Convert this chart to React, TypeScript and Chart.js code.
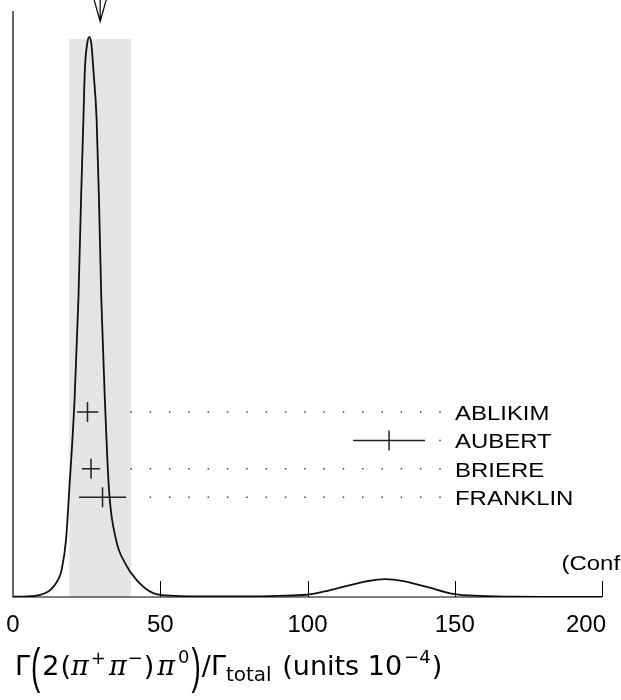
import { useEffect, useRef } from "react";
import { Chart, registerables } from "chart.js";

Chart.register(...registerables);

// Ideogram curve (x in units of 1e-4, height relative to peak)
const CURVE_X = [0, 5, 9.2, 12, 13.7, 15.5, 16.5, 18.0, 19.1, 20.9, 22.2, 23.1, 23.9, 24.4, 25.2, 25.9, 26.6, 27.3, 28.4, 29.2, 30.0, 31.2, 32.6, 35.0, 38.0, 42.0, 47.6, 55, 65, 80, 90, 99.7, 105, 112, 120, 126.3, 133, 140.5, 150, 158.6, 170, 185, 200];
const CURVE_Y = [0.0005, 0.001, 0.004, 0.010, 0.018, 0.033, 0.048, 0.102, 0.191, 0.352, 0.530, 0.709, 0.852, 0.941, 0.988, 1.0, 0.988, 0.941, 0.852, 0.709, 0.530, 0.352, 0.191, 0.102, 0.061, 0.030, 0.007, 0.002, 0.001, 0.001, 0.002, 0.004, 0.009, 0.018, 0.028, 0.032, 0.028, 0.018, 0.005, 0.002, 0.0005, 0.0002, 0];

// Measurements
const NAMES = ["ABLIKIM", "AUBERT", "BRIERE", "FRANKLIN"];
const VALUES = [25.3, 127.7, 26.5, 30.4];
const ERRORS = [3.6, 12.2, 3.1, 8.0];

// Weighted average and its (scaled) error
const AVERAGE = 29.6;
const AVERAGE_ERR = 10.5;

const X_TICKS = [0, 50, 100, 150, 200];
const NOTE = "(Conf";

type Seg = { t: string; font: string; dy: number; sy?: number; gap?: number };

const TITLE: Seg[] = [
  { t: "Γ", font: "27px 'DejaVu Sans'", dy: 0 },
  { t: "(", font: "28px 'Liberation Sans'", dy: 8, sy: 1.8, gap: 1 },
  { t: "2", font: "27px 'DejaVu Sans'", dy: 0, gap: 1 },
  { t: "(", font: "27px 'DejaVu Sans'", dy: 0 },
  { t: "π", font: "italic 27px 'DejaVu Serif'", dy: 0 },
  { t: "+", font: "18px 'DejaVu Sans'", dy: -11, gap: 2 },
  { t: "π", font: "italic 27px 'DejaVu Serif'", dy: 0, gap: 1 },
  { t: "−", font: "18px 'DejaVu Sans'", dy: -11 },
  { t: ")", font: "27px 'DejaVu Sans'", dy: 0, gap: 1 },
  { t: "π", font: "italic 27px 'DejaVu Serif'", dy: 0, gap: 2 },
  { t: "0", font: "18px 'DejaVu Sans'", dy: -12, gap: 1 },
  { t: ")", font: "28px 'Liberation Sans'", dy: 8, sy: 1.8, gap: 1 },
  { t: "/", font: "27px 'DejaVu Sans'", dy: 0 },
  { t: "Γ", font: "27px 'DejaVu Sans'", dy: 0 },
  { t: "total", font: "20px 'DejaVu Sans'", dy: 6 },
  { t: " (units 10", font: "27px 'DejaVu Sans'", dy: 0, gap: 2 },
  { t: "−4", font: "18px 'DejaVu Sans'", dy: -12 },
  { t: ")", font: "27px 'DejaVu Sans'", dy: 0, gap: 1 },
];

const NAME_X = 455;
const ROW_OFFSET = 185; // px above baseline for first row
const ROW_STEP = 28.4;

const ideogramPlugin = {
  id: "ideogram",
  beforeDatasetsDraw(chart: any) {
    const { ctx, chartArea, scales } = chart;
    const xs = scales.x, ys = scales.y;
    const x0 = xs.getPixelForValue(AVERAGE - AVERAGE_ERR);
    const x1 = xs.getPixelForValue(AVERAGE + AVERAGE_ERR);
    const top = ys.getPixelForValue(Math.max(...CURVE_Y)) + 2;
    ctx.save();
    ctx.fillStyle = "#e5e5e5";
    ctx.fillRect(x0, top, x1 - x0, chartArea.bottom - top);
    ctx.restore();
  },
  afterDatasetsDraw(chart: any) {
    const { ctx, chartArea, scales } = chart;
    const xs = scales.x;
    const bottom = chartArea.bottom;
    ctx.save();
    // axes
    ctx.strokeStyle = "#000";
    ctx.lineWidth = 1.2;
    ctx.beginPath();
    ctx.moveTo(chartArea.left, chartArea.top);
    ctx.lineTo(chartArea.left, bottom);
    ctx.lineTo(chartArea.right, bottom);
    ctx.stroke();
    ctx.lineWidth = 1;
    ctx.beginPath();
    X_TICKS.forEach((v) => {
      if (v === X_TICKS[0]) return;
      const px = Math.round(xs.getPixelForValue(v)) + 0.5;
      ctx.moveTo(px, bottom);
      ctx.lineTo(px, bottom - 16);
    });
    ctx.stroke();
    // tick labels
    ctx.fillStyle = "#000";
    ctx.font = "24px 'Liberation Sans'";
    ctx.textBaseline = "alphabetic";
    X_TICKS.forEach((v) => {
      const px = xs.getPixelForValue(v);
      const label = String(v);
      const w = ctx.measureText(label).width;
      let lx = px - w / 2;
      if (lx + w > 606) lx = 606 - w;
      ctx.fillText(label, lx, bottom + 35);
    });
    // note
    ctx.save();
    ctx.font = "21px 'Liberation Sans'";
    ctx.translate(561.5, 570);
    ctx.scale(1.14, 1);
    ctx.fillText(NOTE, 0, 0);
    ctx.restore();

    // measurements
    const bandRight = xs.getPixelForValue(AVERAGE + AVERAGE_ERR);
    const dotEnd = NAME_X - 15;
    const nDots = Math.round((dotEnd - bandRight) / 19.4);
    const dotStep = (dotEnd - bandRight) / nDots;
    NAMES.forEach((name, i) => {
      const ry = bottom - ROW_OFFSET + i * ROW_STEP;
      const l = xs.getPixelForValue(VALUES[i] - ERRORS[i]);
      const r = xs.getPixelForValue(VALUES[i] + ERRORS[i]);
      const c = xs.getPixelForValue(VALUES[i]);
      ctx.strokeStyle = "#222";
      ctx.lineWidth = 1.5;
      ctx.beginPath();
      ctx.moveTo(l, ry);
      ctx.lineTo(r, ry);
      ctx.moveTo(c, ry - 10);
      ctx.lineTo(c, ry + 10);
      ctx.stroke();
      ctx.fillStyle = "#444";
      for (let k = 0; k <= nDots; k++) {
        const dx = bandRight + k * dotStep;
        if (dx > r + 6) ctx.fillRect(dx - 0.75, ry - 0.75, 1.5, 1.5);
      }
      ctx.fillStyle = "#000";
      ctx.save();
      ctx.font = "21px 'Liberation Sans'";
      ctx.translate(NAME_X, ry + 8);
      ctx.scale(1.14, 1);
      ctx.fillText(name, 0, 0);
      ctx.restore();
    });

    // arrow at the average
    const ax = xs.getPixelForValue(AVERAGE);
    ctx.strokeStyle = "#000";
    ctx.lineWidth = 1.2;
    ctx.beginPath();
    ctx.moveTo(ax, 0);
    ctx.lineTo(ax, 21.5);
    ctx.moveTo(ax - 6, 0);
    ctx.lineTo(ax, 21.5);
    ctx.lineTo(ax + 6, 0);
    ctx.stroke();

    // title
    let tx = 15;
    const base = 675;
    ctx.fillStyle = "#000";
    TITLE.forEach((s) => {
      ctx.font = s.font;
      const w = ctx.measureText(s.t).width;
      if (s.gap) tx += s.gap;
      ctx.save();
      ctx.translate(tx, base + s.dy);
      if (s.sy) ctx.scale(1, s.sy);
      ctx.fillText(s.t, 0, 0);
      ctx.restore();
      tx += w + (s.gap || 0);
    });
    ctx.restore();
  },
};

export default function App() {
  const ref = useRef<HTMLCanvasElement | null>(null);
  useEffect(() => {
    if (!ref.current) return;
    const points = CURVE_X.map((x, i) => ({ x, y: CURVE_Y[i] }));
    const chart = new Chart(ref.current, {
      type: "line",
      data: {
        datasets: [
          {
            data: points,
            borderColor: "#111",
            borderWidth: 1.8,
            pointRadius: 0,
            fill: false,
            cubicInterpolationMode: "monotone",
          },
        ],
      },
      options: {
        responsive: false,
        devicePixelRatio: 1,
        animation: false,
        layout: { padding: { left: 13, top: 11, right: 19, bottom: 103 } },
        plugins: { legend: { display: false }, tooltip: { enabled: false } },
        scales: {
          x: { type: "linear", min: 0, max: 200, display: false },
          y: { min: 0, max: 1.0464, display: false },
        },
      },
      plugins: [ideogramPlugin],
    } as any);
    return () => chart.destroy();
  }, []);
  return (
    <canvas
      ref={ref}
      width={621}
      height={700}
      style={{ position: "fixed", left: 0, top: 0, width: 621, height: 700 }}
    />
  );
}
